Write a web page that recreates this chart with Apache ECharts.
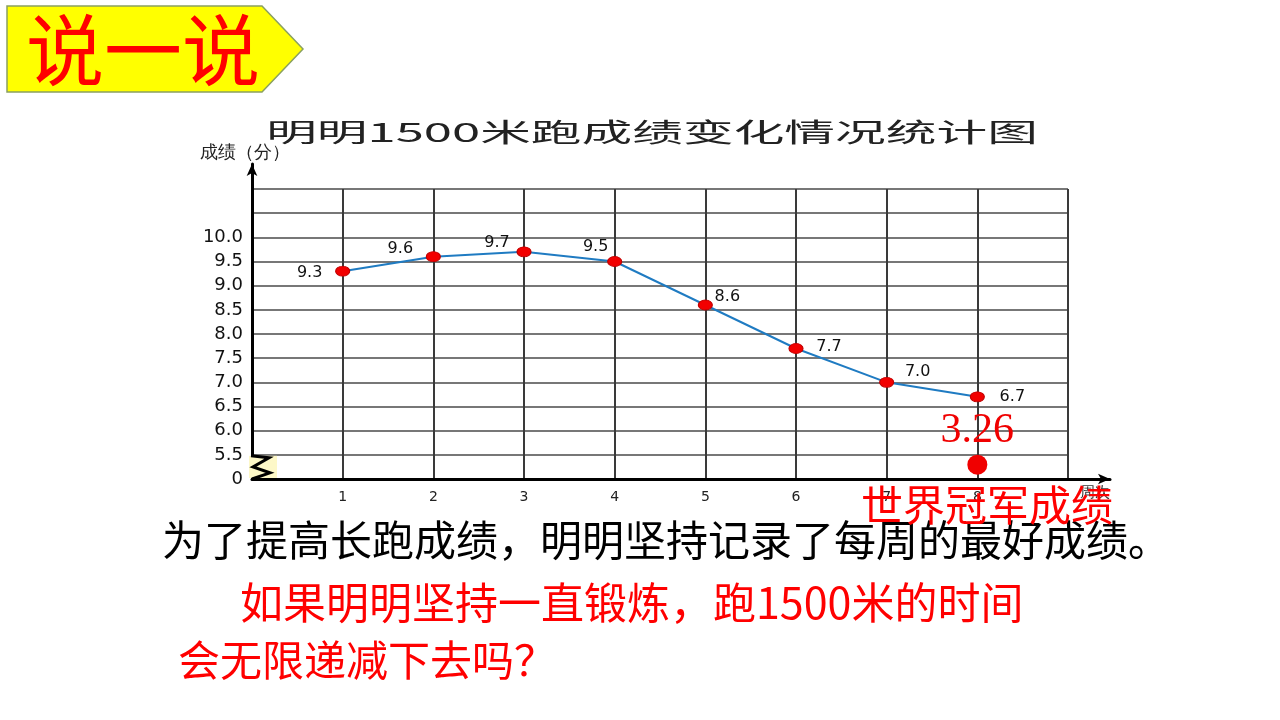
<!DOCTYPE html>
<html>
<head>
<meta charset="utf-8">
<script src="https://cdn.jsdelivr.net/npm/echarts@6/dist/echarts.min.js"></script>
<style>
  html, body { margin: 0; padding: 0; background: #fff; }
  #main { width: 1280px; height: 720px; }
</style>
</head>
<body>
<div id="main"></div>
<script>
// data
const weeks = [1, 2, 3, 4, 5, 6, 7, 8]
const scores = [9.3, 9.6, 9.7, 9.5, 8.6, 7.7, 7.0, 6.7]
const recordWeek = 8
const recordScore = 3.26
const weekLabels = ['1', '2', '3', '4', '5', '6', '7', '8']
const yTickLabels = ['0', '5.5', '6.0', '6.5', '7.0', '7.5', '8.0', '8.5', '9.0', '9.5', '10.0']

// label placement next to each point (style only)
const labelOffsets = [[-33, 2], [-33, -8], [-27, -9], [-19, -15], [22, -8], [33, -2], [31, -10], [35, 0]]

// broken y axis: 0..5.5 squeezed into the first cell, then one cell per 0.5
function toAxis(v) {
  return v < 5.5 ? v / 5.5 : 1 + (v - 5.5) / 0.5
}

const chart = echarts.init(document.getElementById('main'))

const lineData = weeks.map((w, i) => ({
  value: [w, toAxis(scores[i])],
  label: { offset: labelOffsets[i], formatter: scores[i].toFixed(1) }
}))

chart.setOption({
  animation: false,
  backgroundColor: '#fff',
  grid: [
    { left: 252, top: 189, right: 212, bottom: 241 },
    { left: 252, top: 164, right: 170, bottom: 241 }
  ],
  xAxis: [{
    gridIndex: 0,
    type: 'value',
    min: 0,
    max: 9,
    interval: 1,
    axisLine: { show: false },
    axisTick: { show: false },
    axisLabel: {
      margin: 11,
      fontSize: 14,
      fontFamily: 'DejaVu Sans',
      color: '#222',
      formatter: v => weekLabels[v - 1] || ''
    },
    splitLine: { show: true, lineStyle: { color: '#3a3a3a', width: 2 } }
  }, {
    gridIndex: 1,
    type: 'value',
    min: 0,
    max: 1,
    axisLine: { show: true, symbol: ['none', 'arrow'], symbolSize: [8, 12], lineStyle: { color: '#000', width: 3 } },
    axisTick: { show: false },
    axisLabel: { show: false },
    splitLine: { show: false },
    name: '周次',
    nameLocation: 'end',
    nameGap: 0,
    nameTextStyle: { fontSize: 15, color: '#333', align: 'right', verticalAlign: 'top', padding: [6, 0, 0, 0] }
  }],
  yAxis: [{
    gridIndex: 0,
    type: 'value',
    min: 0,
    max: 12,
    interval: 1,
    axisLine: { show: false },
    axisTick: { show: false },
    axisLabel: {
      margin: 9,
      fontSize: 18,
      fontFamily: 'DejaVu Sans',
      color: '#111',
      formatter: v => yTickLabels[v] || ''
    },
    splitLine: { show: true, lineStyle: { color: '#4a4a4a', width: 1.5 } }
  }, {
    gridIndex: 1,
    type: 'value',
    min: 0,
    max: 1,
    axisLine: { show: true, symbol: ['none', 'arrow'], symbolSize: [8, 12], lineStyle: { color: '#000', width: 3 } },
    axisTick: { show: false },
    axisLabel: { show: false },
    splitLine: { show: false },
    name: '成绩（分）',
    nameLocation: 'end',
    nameGap: 2,
    nameTextStyle: { fontSize: 18, color: '#222', align: 'center', padding: [0, 14, 0, 0] }
  }],
  series: [{
    type: 'line',
    xAxisIndex: 0,
    yAxisIndex: 0,
    data: lineData,
    symbol: 'circle',
    symbolSize: [14, 10],
    lineStyle: { color: '#1f7bc2', width: 2 },
    itemStyle: { color: '#f20000', borderColor: '#c00000', borderWidth: 1 },
    label: {
      show: true,
      position: 'inside',
      fontSize: 16,
      fontFamily: 'DejaVu Sans',
      color: '#111'
    },
    z: 3
  }, {
    type: 'scatter',
    xAxisIndex: 0,
    yAxisIndex: 0,
    data: [[recordWeek, toAxis(recordScore)]],
    symbolSize: 20,
    itemStyle: { color: '#f00000', opacity: 1 },
    label: {
      show: true,
      position: 'top',
      distance: 3,
      formatter: String(recordScore),
      fontSize: 42,
      fontFamily: 'Liberation Serif',
      color: '#f00000'
    },
    z: 4
  }]
})

// decorations placed from the axis scale
const origin = chart.convertToPixel({ gridIndex: 0 }, [0, 0])
const breakTop = chart.convertToPixel({ gridIndex: 0 }, [0, 1])
const ox = origin[0]
const oy = origin[1]
const by = breakTop[1]

chart.setOption({
  graphic: [
    {
      type: 'polygon',
      shape: { points: [[7, 6], [262, 6], [303, 49], [262, 92], [7, 92]] },
      style: { fill: '#ffff00', stroke: '#8aa060', lineWidth: 1.5 }
    },
    {
      type: 'text',
      x: 143, y: 50,
      style: { text: '说一说', fill: '#ff0000', fontSize: 78, fontFamily: 'Noto Sans CJK SC', textAlign: 'center', textVerticalAlign: 'middle' }
    },
    {
      type: 'text',
      x: 652, y: 132, scaleX: 1.95,
      style: { text: '明明1500米跑成绩变化情况统计图', fill: '#222', fontSize: 26, fontFamily: 'Noto Sans CJK SC', textAlign: 'center', textVerticalAlign: 'middle' }
    },
    {
      type: 'rect', z: 100,
      shape: { x: ox - 3, y: by + 1, width: 28, height: oy - by - 2 },
      style: { fill: '#fdf8c8' }
    },
    {
      type: 'polyline', z: 101,
      shape: { points: [[ox - 1, by + 1], [ox + 17, by + 3], [ox + 1, by + 12], [ox + 18, by + 18], [ox, oy]] },
      style: { stroke: '#000', lineWidth: 3, fill: null }
    },
    {
      type: 'text', z: 110,
      x: 987, y: 505,
      style: { text: '世界冠军成绩', fill: '#ff0000', fontSize: 42, fontFamily: 'Noto Sans CJK SC', textAlign: 'center', textVerticalAlign: 'middle' }
    },
    {
      type: 'text',
      x: 666, y: 540,
      style: { text: '为了提高长跑成绩，明明坚持记录了每周的最好成绩。', fill: '#000', fontSize: 42, fontFamily: 'Noto Sans CJK SC', textAlign: 'center', textVerticalAlign: 'middle' }
    },
    {
      type: 'text',
      x: 240, y: 603,
      style: { text: '如果明明坚持一直锻炼，跑1500米的时间', fill: '#ff0000', fontSize: 43, fontFamily: 'Noto Sans CJK SC', textAlign: 'left', textVerticalAlign: 'middle' }
    },
    {
      type: 'text',
      x: 178, y: 660,
      style: { text: '会无限递减下去吗？', fill: '#ff0000', fontSize: 42, fontFamily: 'Noto Sans CJK SC', textAlign: 'left', textVerticalAlign: 'middle' }
    }
  ]
})
</script>
</body>
</html>
